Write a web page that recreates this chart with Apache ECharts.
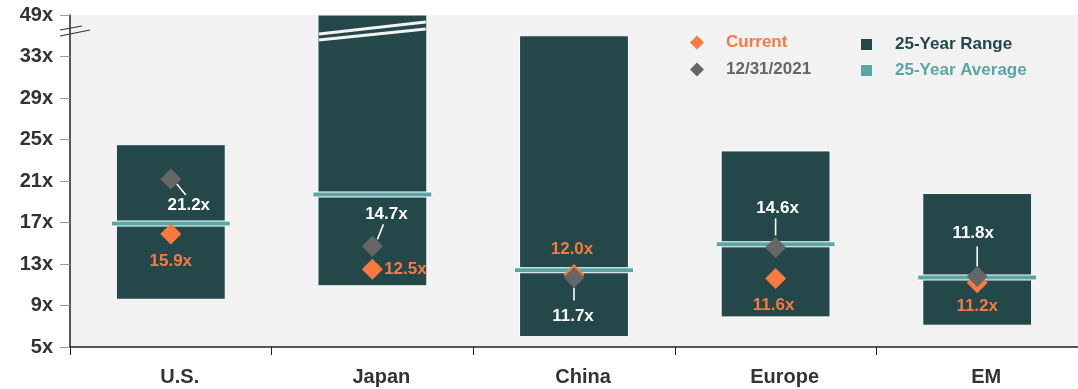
<!DOCTYPE html>
<html>
<head>
<meta charset="utf-8">
<script src="https://cdn.jsdelivr.net/npm/echarts@6/dist/echarts.min.js"></script>
<style>
  html, body { margin: 0; padding: 0; background: #fff; }
  #chart { width: 1078px; height: 389px; }
</style>
</head>
<body>
<div id="chart"></div>
<script>
var categories = ['U.S.', 'Japan', 'China', 'Europe', 'EM'];
var rangeLow = [9.6, 10.9, 6.0, 7.9, 7.1];
var rangeHigh = [24.5, 49, 35.0, 23.9, 19.8];   // Japan runs off the broken top of the axis
var average = [16.9, 19.7, 12.4, 14.9, 11.7];
var current = [15.9, 12.5, 12.0, 11.6, 11.2];
var yearEnd2021 = [21.2, 14.7, 11.7, 14.6, 11.8];
var yTickMin = 5, yTickStep = 4, yAxisTop = 37;  // top tick stands for the break
var brokenTopLabel = '49x';

(function() {
  var font = '"Liberation Sans", Arial, sans-serif';
  var rangeColor = '#24484a';
  var avgColor = '#5aa5a5';
  var orange = '#f87a40';
  var gray = '#666666';

  // label placement (pixels from the diamond centre)
  var currentLabelOffset = [[0, 27], [33, 0], [-2, -25], [-2, 27], [0, 24]];
  var yearEndLabelOffset = [[18, 26], [14, -32], [-1, 39], [2, -39], [-4, -43]];
  var leaderLines = [[6, 5, 15, 16], [11, -22, 5, -7], [0, 10, 0, 23], [0, -29, 0, -12], [0, -30, 0, -10]];

  var chart = echarts.init(document.getElementById('chart'), null, { renderer: 'canvas' });

  function renderRange(params, api) {
    var idx = api.value(0), lo = api.value(1), hi = api.value(2);
    var top = api.coord([idx, Math.min(hi, yAxisTop)]);
    var bot = api.coord([idx, lo]);
    var w = api.size([1, 0])[0] * 0.54;
    var x0 = top[0] - w / 2, x1 = top[0] + w / 2;
    var children = [{
      type: 'rect',
      shape: { x: x0, y: top[1], width: w, height: bot[1] - top[1] },
      style: { fill: rangeColor, stroke: '#ffffff', lineWidth: 1 }
    }];
    if (hi > yAxisTop) {
      children.push({ type: 'line', shape: { x1: x0 + 1, y1: top[1] + 19, x2: x1 - 1, y2: top[1] + 7 },
        style: { stroke: '#f2f2f2', lineWidth: 2.8 } });
      children.push({ type: 'line', shape: { x1: x0 + 1, y1: top[1] + 25, x2: x1 - 1, y2: top[1] + 14 },
        style: { stroke: '#f2f2f2', lineWidth: 2.8 } });
    }
    if (params.dataIndex === 0) {
      var cs = params.coordSys;
      var ax = cs.x, ay = cs.y;
      children.push({ type: 'line', shape: { x1: ax - 10, y1: ay + 15, x2: ax + 12, y2: ay + 11 },
        style: { stroke: '#333', lineWidth: 1.2 } });
      children.push({ type: 'line', shape: { x1: ax - 10, y1: ay + 21, x2: ax + 20, y2: ay + 15 },
        style: { stroke: '#333', lineWidth: 1.2 } });
    }
    return { type: 'group', children: children };
  }

  function renderAverage(params, api) {
    var p = api.coord([api.value(0), api.value(1)]);
    var w = api.size([1, 0])[0] * 0.59;
    return {
      type: 'rect',
      shape: { x: p[0] - w / 2, y: p[1] - 2.5, width: w, height: 5 },
      style: { fill: avgColor, stroke: '#ffffff', lineWidth: 1 }
    };
  }

  function renderLeader(params, api) {
    var p = api.coord([api.value(0), api.value(1)]);
    var l = leaderLines[params.dataIndex];
    return {
      type: 'line',
      shape: { x1: p[0] + l[0], y1: p[1] + l[1], x2: p[0] + l[2], y2: p[1] + l[3] },
      style: { stroke: '#ffffff', lineWidth: 1.6 }
    };
  }

  function pctLabel(p) { return p.value[1].toFixed(1) + 'x'; }

  chart.setOption({
    animation: false,
    textStyle: { fontFamily: font },
    grid: {
      left: 70, right: 0, top: 15, bottom: 42,
      show: true, backgroundColor: '#f2f2f2', borderWidth: 0
    },
    legend: [
      {
        orient: 'vertical', left: 690, top: 34, padding: 0,
        itemWidth: 14, itemHeight: 14, itemGap: 10,
        textStyle: { fontSize: 17, fontWeight: 'bold', fontFamily: font, padding: [0, 0, 0, 17] },
        data: [
          { name: 'Current', icon: 'diamond', textStyle: { color: orange } },
          { name: '12/31/2021', icon: 'diamond', textStyle: { color: gray } }
        ]
      },
      {
        orient: 'vertical', left: 861, top: 36, padding: 0,
        itemWidth: 11, itemHeight: 11, itemGap: 9,
        textStyle: { fontSize: 17, fontWeight: 'bold', fontFamily: font, padding: [0, 0, 0, 18] },
        data: [
          { name: '25-Year Range', icon: 'rect', textStyle: { color: rangeColor } },
          { name: '25-Year Average', icon: 'rect', textStyle: { color: avgColor } }
        ]
      }
    ],
    xAxis: {
      type: 'category',
      data: categories,
      axisLine: { lineStyle: { color: '#222', width: 1.5 } },
      axisTick: { show: true, length: 8, lineStyle: { color: '#222' } },
      axisLabel: { color: '#333', fontSize: 20, fontWeight: 'bold', margin: 20, fontFamily: font,
        padding: [0, 0, 0, 18] }
    },
    yAxis: {
      type: 'value',
      min: yTickMin, max: yAxisTop, interval: yTickStep,
      axisLine: { show: true, lineStyle: { color: '#222', width: 1.5 } },
      axisTick: { show: true, length: 10, lineStyle: { color: '#999' } },
      splitLine: { show: false },
      axisLabel: {
        color: '#333', fontSize: 20, fontWeight: 'bold', margin: 17, fontFamily: font,
        formatter: function(v) { return v >= yAxisTop ? brokenTopLabel : v + 'x'; }
      }
    },
    series: [
      {
        name: '25-Year Range',
        type: 'custom',
        z: 1,
        clip: false,
        itemStyle: { color: rangeColor },
        renderItem: renderRange,
        data: categories.map(function(c, i) { return [i, rangeLow[i], rangeHigh[i]]; })
      },
      {
        name: '25-Year Average',
        type: 'custom',
        z: 2,
        itemStyle: { color: avgColor },
        renderItem: renderAverage,
        data: categories.map(function(c, i) { return [i, average[i]]; })
      },
      {
        name: 'leaders',
        type: 'custom',
        z: 3,
        silent: true,
        renderItem: renderLeader,
        data: categories.map(function(c, i) { return [i, yearEnd2021[i]]; })
      },
      {
        name: 'Current',
        type: 'scatter',
        z: 4,
        symbol: 'diamond',
        symbolSize: 21,
        itemStyle: { color: orange, opacity: 1 },
        label: {
          show: true, position: 'inside', formatter: pctLabel,
          color: orange, fontSize: 17, fontWeight: 'bold', fontFamily: font
        },
        data: categories.map(function(c, i) {
          return { value: [i, current[i]], label: { offset: currentLabelOffset[i] } };
        })
      },
      {
        name: '12/31/2021',
        type: 'scatter',
        z: 5,
        symbol: 'diamond',
        symbolSize: 21,
        itemStyle: { color: gray, opacity: 1 },
        label: {
          show: true, position: 'inside', formatter: pctLabel,
          color: '#ffffff', fontSize: 17, fontWeight: 'bold', fontFamily: font
        },
        data: categories.map(function(c, i) {
          return { value: [i, yearEnd2021[i]], label: { offset: yearEndLabelOffset[i] } };
        })
      }
    ]
  });
  window.addEventListener('resize', function() { chart.resize(); });
})();
</script>
</body>
</html>
